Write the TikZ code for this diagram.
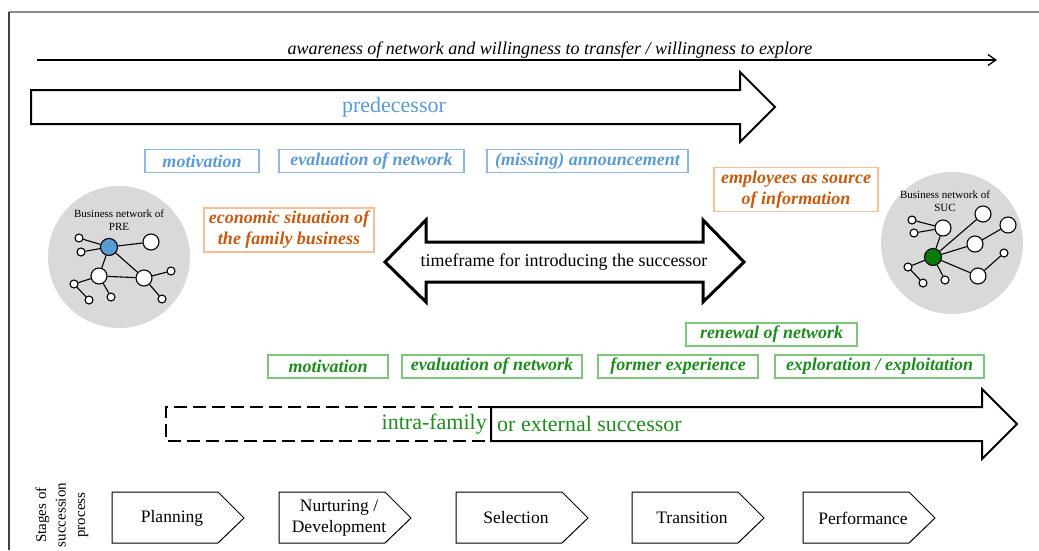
\documentclass[tikz,border=0pt]{standalone}
\usepackage{fontspec}
\setmainfont{Liberation Serif}
\usetikzlibrary{arrows.meta}

\definecolor{pblue}{HTML}{5B9BD5}
\definecolor{pblueline}{HTML}{8DB9E6}
\definecolor{porange}{HTML}{C55A11}
\definecolor{porangeline}{HTML}{F6BE98}
\definecolor{sgreen}{HTML}{1E8C1E}
\definecolor{sgreenline}{HTML}{7DC67D}
\definecolor{netgray}{HTML}{D9D9D9}
\definecolor{sucnode}{HTML}{0A7A0A}

\begin{document}
\begin{tikzpicture}[x=1pt,y=-1pt,
  tag/.style={draw, line width=1.3pt, inner sep=0pt, minimum height=23pt,
    font=\fontsize{18}{21}\selectfont\bfseries\itshape, align=center},
  bluetag/.style={tag, draw=pblueline, text=pblue},
  orangetag/.style={tag, draw=porangeline, text=porange, minimum height=44pt},
  greentag/.style={tag, draw=sgreenline, text=sgreen},
  bigarrow/.style={draw, line width=2pt, line join=miter},
  netbg/.style={circle, fill=netgray, inner sep=0pt, minimum size=142pt},
  nettitle/.style={font=\fontsize{11}{13.5}\selectfont, align=center},
  small/.style={circle, draw, fill=white, line width=1.1pt, inner sep=0pt, minimum size=8pt},
  big/.style={circle, draw, fill=white, line width=1.1pt, inner sep=0pt, minimum size=16pt},
  centre/.style={circle, draw, line width=1.1pt, inner sep=0pt, minimum size=17pt},
  link/.style={line width=1.1pt},
  stagebox/.style={draw, line width=1pt, line join=miter},
  stagetext/.style={font=\fontsize{17.5}{21}\selectfont, align=center}
]
\useasboundingbox (0,0) rectangle (1039,550);

% frame
\coordinate (fr0) at (9,550);
\coordinate (fr1) at (9,12);
\coordinate (fr2) at (1039,12);
\draw[line width=1.2pt, black!45] (fr1) -- (fr2);
\draw[line width=1.2pt, black!75] (fr1) -- (fr0);

% overall awareness arrow
\coordinate (aw0) at (37,60);
\coordinate (aw1) at (997,60);
\draw[line width=1.3pt, -{Straight Barb[length=8pt,width=11pt,line width=1.3pt]}] (aw0) -- (aw1);
\node[anchor=base, font=\fontsize{18}{20}\selectfont\itshape] (awtext) at (550,54)
  {awareness of network and willingness to transfer / willingness to explore};

% predecessor arrow
\draw[bigarrow] (31,90) -- (740,90) -- (740,72) -- (775,107) -- (740,142) -- (740,124) -- (31,124) -- cycle;
\node[text=pblue, font=\fontsize{22}{24}\selectfont] (pred) at (394,107) {predecessor};

% predecessor factors
\node[bluetag, minimum width=114pt] (bmot) at (202,161) {motivation};
\node[bluetag, minimum width=185pt] (beval) at (371.5,161) {evaluation of network};
\node[bluetag, minimum width=201pt] (bmiss) at (587.5,161) {(missing) announcement};

\node[orangetag, minimum width=170pt] (oeco) at (289,230) {economic situation of\\the family business};
\node[orangetag, minimum width=164pt] (oemp) at (796,189.5) {employees as source\\of information};

% timeframe double arrow
\draw[line width=3pt, line join=miter] (385,262) -- (426,220) -- (426,242) -- (703,242) -- (703,220)
  -- (744,262) -- (703,302) -- (703,282) -- (426,282) -- (426,302) -- cycle;
\node[font=\fontsize{18}{20}\selectfont] (tf) at (564,262) {timeframe for introducing the successor};

% business network of the predecessor
\node[netbg] (prebg) at (119,257) {};
\node[nettitle] (pretitle) at (119,220) {Business network of\\PRE};
\node[centre, fill=pblue] (pc) at (109,247) {};
\node[big] (pb1) at (151,242) {};
\node[big] (pb2) at (99,276) {};
\node[big] (pb3) at (144,278) {};
\node[small] (ps1) at (79,238) {};
\node[small] (ps2) at (81,252) {};
\node[small] (ps3) at (171,271) {};
\node[small] (ps4) at (74,284) {};
\node[small] (ps5) at (89,300) {};
\node[small] (ps6) at (111,297) {};
\node[small] (ps7) at (162,299) {};
\draw[link] (pc) -- (ps1);
\draw[link] (pc) -- (ps2);
\draw[link] (pc) -- (pb1);
\draw[link] (pc) -- (pb2);
\draw[link] (pc) -- (pb3);
\draw[link] (pb2) -- (pb3);
\draw[link] (pb2) -- (ps4);
\draw[link] (ps4) -- (ps5);
\draw[link] (pb2) -- (ps6);
\draw[link] (pb3) -- (ps3);
\draw[link] (pb3) -- (ps7);

% business network of the successor
\node[netbg] (sucbg) at (952,243) {};
\node[nettitle] (suctitle) at (945,201) {Business network of\\SUC};
\node[centre, fill=sucnode] (sc) at (933,257) {};
\node[big] (sb1) at (943,228) {};
\node[big] (sb2) at (983,214) {};
\node[big] (sb3) at (1008,225) {};
\node[big] (sb4) at (975,244) {};
\node[big] (sb5) at (978,276) {};
\node[small] (ss1) at (912,220) {};
\node[small] (ss2) at (914,233) {};
\node[small] (ss3) at (1004,253) {};
\node[small] (ss4) at (908,267) {};
\node[small] (ss5) at (923,283) {};
\node[small] (ss6) at (945,280) {};
\draw[link] (ss1) -- (sb1);
\draw[link] (ss2) -- (sb1);
\draw[link] (sb1) -- (sc);
\draw[link] (sc) -- (sb2);
\draw[link] (sc) -- (sb4);
\draw[link] (sb4) -- (sb3);
\draw[link] (sc) -- (sb5);
\draw[link] (sb5) -- (ss3);
\draw[link] (sc) -- (ss4);
\draw[link] (ss4) -- (ss5);
\draw[link] (sc) -- (ss6);

% successor factors
\node[greentag, minimum width=171pt] (gren) at (771.5,334.5) {renewal of network};
\node[greentag, minimum width=120pt] (gmot) at (328,366.5) {motivation};
\node[greentag, minimum width=180pt] (geval) at (492,366.5) {evaluation of network};
\node[greentag, minimum width=160pt] (gform) at (678,366.5) {former experience};
\node[greentag, minimum width=209pt] (gexpl) at (879.5,366.5) {exploration / exploitation};

% successor arrow: dashed intra-family part, solid external part
\draw[line width=2pt, dash pattern=on 13pt off 6pt] (491,407) -- (166,407) -- (166,441) -- (491,441);
\draw[bigarrow] (491,407) -- (982,407) -- (982,389) -- (1017,424) -- (982,459) -- (982,441) -- (491,441) -- cycle;
\node[anchor=east, text=sgreen, font=\fontsize{22}{24}\selectfont, inner sep=0pt] (intra) at (487,424) {intra-family};
\node[anchor=west, text=sgreen, font=\fontsize{22}{24}\selectfont, inner sep=0pt] (extern) at (497,424) {or external successor};

% stages of the succession process
\node[rotate=90, font=\fontsize{15}{19.5}\selectfont, align=center] (stages) at (62,515) {Stages of\\succession\\process};
\foreach \x/\t/\n in {112/Planning/st1, 279/{Nurturing /\\Development}/st2, 456/Selection/st3,
                      632/Transition/st4, 803/Performance/st5}{
  \draw[stagebox] (\x,492) -- ++(106,0) -- ++(26,26) -- ++(-26,25) -- ++(-106,0) -- cycle;
  \node[stagetext] (\n) at (\x+60,518) {\t};
}
\end{tikzpicture}
\end{document}
